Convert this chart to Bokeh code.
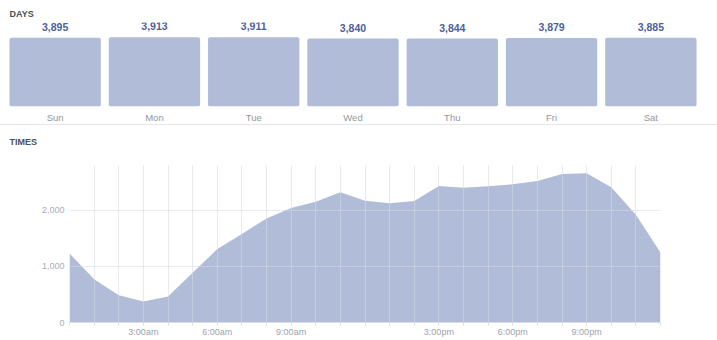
from bokeh.plotting import figure
from bokeh.models import FactorRange, Range1d, FixedTicker, NumeralTickFormatter, Title
from bokeh.core.properties import value
from bokeh.embed import file_html
from bokeh.resources import INLINE

# ---- data ----
days = ["Sun", "Mon", "Tue", "Wed", "Thu", "Fri", "Sat"]
day_counts = [3895, 3913, 3911, 3840, 3844, 3879, 3885]

hours = list(range(25))
hour_counts = [1232, 773, 488, 375, 464, 886, 1309, 1577, 1857, 2041, 2154, 2321,
               2171, 2125, 2166, 2434, 2404, 2429, 2464, 2523, 2648, 2661, 2411, 1921, 1250]
hour_label_pos = [3, 6, 9, 15, 18, 21]
hour_label_text = ["3:00am", "6:00am", "9:00am", "3:00pm", "6:00pm", "9:00pm"]
y_ticks = [0, 1000, 2000]

FONT = "Liberation Sans"
BAR = "#b1bcd9"
TITLE_COLOR = "#4b4f56"


def style_title(t, offset, standoff):
    t.text_font = FONT
    t.text_font_size = "9px"
    t.text_font_style = "bold"
    t.text_color = TITLE_COLOR
    t.align = "left"
    t.offset = offset
    t.standoff = standoff


# ---- top: days ----
top_border = 22
bottom_border = 18
frame_h = 125 - top_border - bottom_border
# bar for max value is ~70px tall
y_end = max(day_counts) * frame_h / 70.0

p1 = figure(width=717, height=125, x_range=FactorRange(*days), y_range=Range1d(0, y_end),
            output_backend="svg", toolbar_location=None, y_axis_location=None,
            min_border_left=5, min_border_right=17, min_border_top=top_border,
            min_border_bottom=bottom_border, title="DAYS",
            styles={"border-bottom": "1px solid #e5e6e9"})
style_title(p1.title, 4, 8)
p1.outline_line_color = None
p1.grid.visible = False
p1.x_range.range_padding = 0
p1.vbar(x=days, top=day_counts, width=0.92, fill_color=BAR, line_color=None, border_radius=2)
p1.text(x=days, y=day_counts, text=[f"{v:,}" for v in day_counts],
        text_align="center", text_baseline="alphabetic", y_offset=-11,
        text_font=value(FONT), text_font_size="10.5px", text_font_style="bold",
        text_color="#4e5f99")
ax = p1.xaxis[0]
ax.axis_line_color = None
ax.major_tick_line_color = None
ax.major_tick_out = 0
ax.major_tick_in = 0
ax.major_label_standoff = 5
ax.major_label_text_font = FONT
ax.major_label_text_font_size = "9.5px"
ax.major_label_text_color = "#9197a3"

# ---- bottom: times ----
p2 = figure(width=717, height=214, x_range=Range1d(0, 24), y_range=Range1d(0, 2800),
            output_backend="svg", toolbar_location=None,
            min_border_left=69, min_border_right=57, min_border_top=40,
            min_border_bottom=16)
spacer = Title(text=" ")
style_title(spacer, -60, 5.5)
times_title = Title(text="TIMES")
style_title(times_title, -60, 2)
p2.add_layout(spacer, "above")
p2.add_layout(times_title, "above")
p2.outline_line_color = None
p2.varea(x=hours, y1=0, y2=hour_counts, fill_color=BAR)

xa = p2.xaxis[0]
xa.ticker = FixedTicker(ticks=hours)
xa.major_label_overrides = {h: "" for h in hours}
xa.major_label_overrides.update({h: t for h, t in zip(hour_label_pos, hour_label_text)})
xa.axis_line_color = "#dddfe2"
xa.major_tick_line_color = "#dddfe2"
xa.major_tick_out = 3
xa.major_tick_in = 0
xa.minor_tick_line_color = None
xa.minor_tick_out = 0
xa.major_label_standoff = 1
xa.major_label_text_font = FONT
xa.major_label_text_font_size = "9px"
xa.major_label_text_color = "#9ea2aa"

ya = p2.yaxis[0]
ya.ticker = FixedTicker(ticks=y_ticks)
ya.formatter = NumeralTickFormatter(format="0,0")
ya.axis_line_color = None
ya.major_tick_line_color = None
ya.minor_tick_line_color = None
ya.major_tick_out = 0
ya.major_tick_in = 0
ya.major_label_standoff = 5
ya.major_label_text_font = FONT
ya.major_label_text_font_size = "9px"
ya.major_label_text_color = "#a8acb3"

p2.xgrid.ticker = FixedTicker(ticks=hours)
p2.ygrid.ticker = FixedTicker(ticks=y_ticks)
for g in (p2.xgrid[0], p2.ygrid[0]):
    g.level = "overlay"
    g.grid_line_color = "#d5d9e2"
    g.grid_line_alpha = 0.55

open("out.html", "w").write(file_html([p1, p2], INLINE))
